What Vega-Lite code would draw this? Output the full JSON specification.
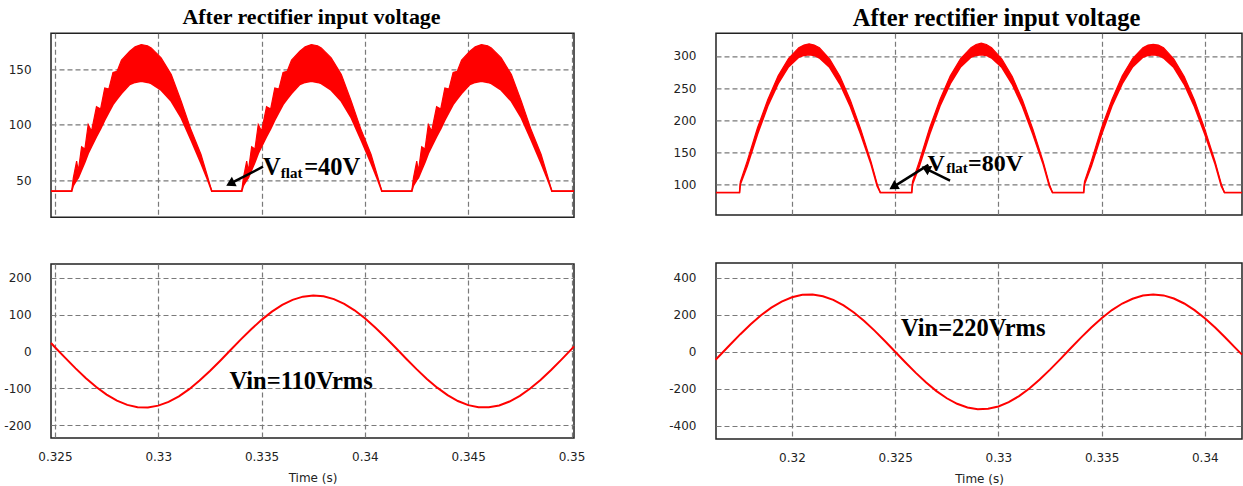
{
  "$schema": "https://vega.github.io/schema/vega-lite/v6.json",
  "padding": {"left": 3, "top": 5.3, "right": 0, "bottom": 0},
  "background": "white",
  "config": {
    "view": {"stroke": "#222222", "strokeWidth": 1.5},
    "axis": {
      "grid": true, "gridColor": "#7a7a7a", "gridDash": [5, 3], "gridWidth": 1.2, "gridOpacity": 1,
      "domain": false, "ticks": false, "labelFlush": false, "labelOverlap": false,
      "labelFont": "DejaVu Sans", "labelFontSize": 12, "labelColor": "#222222",
      "titleFont": "DejaVu Sans", "titleFontSize": 12, "titleFontWeight": "normal", "titleColor": "#222222"
    },
    "axisY": {"labelPadding": 20},
    "axisX": {"labelPadding": 14, "titlePadding": 10},
    "title": {"font": "Liberation Serif", "fontWeight": "bold", "color": "#000000", "anchor": "middle"}
  },
  "datasets": {
    "lt": [
      {"t": 0.32481, "v": 40, "v2": 40},
      {"t": 0.32581, "v": 40, "v2": 40},
      {"t": 0.32589, "v": 45, "v2": 52},
      {"t": 0.32605, "v": 50, "v2": 67},
      {"t": 0.32613, "v": 52, "v2": 58},
      {"t": 0.32629, "v": 59, "v2": 80},
      {"t": 0.32645, "v": 66, "v2": 78},
      {"t": 0.32661, "v": 74, "v2": 100},
      {"t": 0.32677, "v": 80, "v2": 94},
      {"t": 0.32701, "v": 89, "v2": 116},
      {"t": 0.32721, "v": 96, "v2": 114},
      {"t": 0.32741, "v": 104, "v2": 133},
      {"t": 0.32761, "v": 111, "v2": 132},
      {"t": 0.32781, "v": 118, "v2": 147},
      {"t": 0.32801, "v": 123, "v2": 148},
      {"t": 0.32822, "v": 128, "v2": 158},
      {"t": 0.32862, "v": 136, "v2": 166},
      {"t": 0.32888, "v": 138, "v2": 170},
      {"t": 0.32918, "v": 139, "v2": 172},
      {"t": 0.32948, "v": 138, "v2": 171},
      {"t": 0.32966, "v": 137, "v2": 169},
      {"t": 0.33014, "v": 131, "v2": 160},
      {"t": 0.33063, "v": 121, "v2": 145},
      {"t": 0.33111, "v": 106, "v2": 121},
      {"t": 0.33159, "v": 86, "v2": 95},
      {"t": 0.33207, "v": 65, "v2": 73},
      {"t": 0.33239, "v": 50, "v2": 53},
      {"t": 0.33259, "v": 40, "v2": 40},
      {"t": 0.33404, "v": 40, "v2": 40},
      {"t": 0.33412, "v": 45, "v2": 52},
      {"t": 0.33428, "v": 50, "v2": 67},
      {"t": 0.33436, "v": 52, "v2": 58},
      {"t": 0.33452, "v": 59, "v2": 80},
      {"t": 0.33468, "v": 66, "v2": 78},
      {"t": 0.33484, "v": 74, "v2": 100},
      {"t": 0.335, "v": 80, "v2": 94},
      {"t": 0.33524, "v": 89, "v2": 116},
      {"t": 0.33544, "v": 96, "v2": 114},
      {"t": 0.33564, "v": 104, "v2": 133},
      {"t": 0.33584, "v": 111, "v2": 132},
      {"t": 0.33604, "v": 118, "v2": 147},
      {"t": 0.33624, "v": 123, "v2": 148},
      {"t": 0.33645, "v": 128, "v2": 158},
      {"t": 0.33685, "v": 136, "v2": 166},
      {"t": 0.33711, "v": 138, "v2": 170},
      {"t": 0.33741, "v": 139, "v2": 172},
      {"t": 0.33771, "v": 138, "v2": 171},
      {"t": 0.33789, "v": 137, "v2": 169},
      {"t": 0.33837, "v": 131, "v2": 160},
      {"t": 0.33886, "v": 121, "v2": 145},
      {"t": 0.33934, "v": 106, "v2": 121},
      {"t": 0.33982, "v": 86, "v2": 95},
      {"t": 0.3403, "v": 65, "v2": 73},
      {"t": 0.34062, "v": 50, "v2": 53},
      {"t": 0.34082, "v": 40, "v2": 40},
      {"t": 0.34227, "v": 40, "v2": 40},
      {"t": 0.34235, "v": 45, "v2": 52},
      {"t": 0.34251, "v": 50, "v2": 67},
      {"t": 0.34259, "v": 52, "v2": 58},
      {"t": 0.34275, "v": 59, "v2": 80},
      {"t": 0.34291, "v": 66, "v2": 78},
      {"t": 0.34307, "v": 74, "v2": 100},
      {"t": 0.34323, "v": 80, "v2": 94},
      {"t": 0.34347, "v": 89, "v2": 116},
      {"t": 0.34367, "v": 96, "v2": 114},
      {"t": 0.34387, "v": 104, "v2": 133},
      {"t": 0.34407, "v": 111, "v2": 132},
      {"t": 0.34427, "v": 118, "v2": 147},
      {"t": 0.34447, "v": 123, "v2": 148},
      {"t": 0.34468, "v": 128, "v2": 158},
      {"t": 0.34508, "v": 136, "v2": 166},
      {"t": 0.34534, "v": 138, "v2": 170},
      {"t": 0.34564, "v": 139, "v2": 172},
      {"t": 0.34594, "v": 138, "v2": 171},
      {"t": 0.34612, "v": 137, "v2": 169},
      {"t": 0.3466, "v": 131, "v2": 160},
      {"t": 0.34709, "v": 121, "v2": 145},
      {"t": 0.34757, "v": 106, "v2": 121},
      {"t": 0.34805, "v": 86, "v2": 95},
      {"t": 0.34853, "v": 65, "v2": 73},
      {"t": 0.34885, "v": 50, "v2": 53},
      {"t": 0.34905, "v": 40, "v2": 40},
      {"t": 0.35012, "v": 40, "v2": 40}
    ],
    "ltArrow": [{"t": 0.33507, "v": 62, "t2": 0.33355, "v2": 47.4}],
    "ltHead": [{"t": 0.33355, "v": 47.4}],
    "ltBig": [{"t": 0.33507, "v": 54.5, "label": "V"}, {"t": 0.33706, "v": 54.5, "label": "=40V"}],
    "ltSmall": [{"t": 0.33593, "v": 51.5, "label": "flat"}],
    "lb": [
      {"t": 0.32481, "v": 23.1}, {"t": 0.325, "v": 11.6}, {"t": 0.3255, "v": -17.4}, {"t": 0.326, "v": -45.7},
      {"t": 0.3265, "v": -72.4}, {"t": 0.327, "v": -96.4}, {"t": 0.3275, "v": -116.9}, {"t": 0.328, "v": -133.3},
      {"t": 0.3285, "v": -144.7}, {"t": 0.329, "v": -150.9}, {"t": 0.3295, "v": -151.6}, {"t": 0.33, "v": -146.8},
      {"t": 0.3305, "v": -136.7}, {"t": 0.331, "v": -121.7}, {"t": 0.3315, "v": -102.1}, {"t": 0.332, "v": -78.9},
      {"t": 0.3325, "v": -52.9}, {"t": 0.333, "v": -24.9}, {"t": 0.3335, "v": 4.0}, {"t": 0.334, "v": 32.8},
      {"t": 0.3345, "v": 60.3}, {"t": 0.335, "v": 85.7}, {"t": 0.3355, "v": 108.0}, {"t": 0.336, "v": 126.3},
      {"t": 0.3365, "v": 140.1}, {"t": 0.337, "v": 148.7}, {"t": 0.3375, "v": 152.0}, {"t": 0.338, "v": 149.7},
      {"t": 0.3385, "v": 142.0}, {"t": 0.339, "v": 129.2}, {"t": 0.3395, "v": 111.6}, {"t": 0.34, "v": 90.0},
      {"t": 0.3405, "v": 65.2}, {"t": 0.341, "v": 37.9}, {"t": 0.3415, "v": 9.3}, {"t": 0.342, "v": -19.6},
      {"t": 0.3425, "v": -47.8}, {"t": 0.343, "v": -74.4}, {"t": 0.3435, "v": -98.1}, {"t": 0.344, "v": -118.4},
      {"t": 0.3445, "v": -134.3}, {"t": 0.345, "v": -145.4}, {"t": 0.3455, "v": -151.2}, {"t": 0.346, "v": -151.4},
      {"t": 0.3465, "v": -146.2}, {"t": 0.347, "v": -135.7}, {"t": 0.3475, "v": -120.3}, {"t": 0.348, "v": -100.4},
      {"t": 0.3485, "v": -77.0}, {"t": 0.349, "v": -50.7}, {"t": 0.3495, "v": -22.6}, {"t": 0.35, "v": 6.3},
      {"t": 0.35012, "v": 13.8}
    ],
    "lbText": [{"t": 0.33345, "v": -101.4, "label": "Vin=110Vrms"}],
    "rt": [
      {"t": 0.31632, "v": 87, "v2": 87},
      {"t": 0.31746, "v": 87, "v2": 87},
      {"t": 0.3175, "v": 100, "v2": 104},
      {"t": 0.31783, "v": 128, "v2": 136},
      {"t": 0.31833, "v": 178, "v2": 188},
      {"t": 0.31883, "v": 222, "v2": 232},
      {"t": 0.31933, "v": 257, "v2": 269},
      {"t": 0.31983, "v": 283, "v2": 296},
      {"t": 0.32033, "v": 298, "v2": 313},
      {"t": 0.32058, "v": 301, "v2": 317},
      {"t": 0.32083, "v": 302, "v2": 319},
      {"t": 0.32108, "v": 301, "v2": 317},
      {"t": 0.32133, "v": 297, "v2": 313},
      {"t": 0.32183, "v": 282, "v2": 295},
      {"t": 0.32233, "v": 256, "v2": 268},
      {"t": 0.32283, "v": 221, "v2": 231},
      {"t": 0.32333, "v": 178, "v2": 186},
      {"t": 0.32383, "v": 131, "v2": 135},
      {"t": 0.32413, "v": 97, "v2": 100},
      {"t": 0.32428, "v": 87, "v2": 87},
      {"t": 0.3258, "v": 87, "v2": 87},
      {"t": 0.32584, "v": 100, "v2": 104},
      {"t": 0.32617, "v": 128, "v2": 136},
      {"t": 0.32667, "v": 178, "v2": 188},
      {"t": 0.32717, "v": 222, "v2": 232},
      {"t": 0.32767, "v": 257, "v2": 269},
      {"t": 0.32817, "v": 283, "v2": 296},
      {"t": 0.32867, "v": 298, "v2": 313},
      {"t": 0.32892, "v": 301, "v2": 318},
      {"t": 0.32917, "v": 302, "v2": 320},
      {"t": 0.32942, "v": 301, "v2": 318},
      {"t": 0.32967, "v": 297, "v2": 313},
      {"t": 0.33017, "v": 282, "v2": 295},
      {"t": 0.33067, "v": 256, "v2": 268},
      {"t": 0.33117, "v": 221, "v2": 231},
      {"t": 0.33167, "v": 178, "v2": 186},
      {"t": 0.33217, "v": 131, "v2": 135},
      {"t": 0.33247, "v": 97, "v2": 100},
      {"t": 0.33262, "v": 87, "v2": 87},
      {"t": 0.33413, "v": 87, "v2": 87},
      {"t": 0.33417, "v": 100, "v2": 104},
      {"t": 0.3345, "v": 128, "v2": 136},
      {"t": 0.335, "v": 178, "v2": 188},
      {"t": 0.3355, "v": 222, "v2": 232},
      {"t": 0.336, "v": 257, "v2": 269},
      {"t": 0.3365, "v": 283, "v2": 296},
      {"t": 0.337, "v": 298, "v2": 313},
      {"t": 0.33725, "v": 301, "v2": 317},
      {"t": 0.3375, "v": 302, "v2": 318},
      {"t": 0.33775, "v": 301, "v2": 317},
      {"t": 0.338, "v": 297, "v2": 313},
      {"t": 0.3385, "v": 282, "v2": 295},
      {"t": 0.339, "v": 256, "v2": 268},
      {"t": 0.3395, "v": 221, "v2": 231},
      {"t": 0.34, "v": 178, "v2": 186},
      {"t": 0.3405, "v": 131, "v2": 135},
      {"t": 0.3408, "v": 97, "v2": 100},
      {"t": 0.34095, "v": 87, "v2": 87},
      {"t": 0.3418, "v": 87, "v2": 87}
    ],
    "rtArrowA": [{"t": 0.32661, "v": 130.1, "t2": 0.32497, "v2": 97}],
    "rtHeadA": [{"t": 0.32497, "v": 97}],
    "rtArrowB": [{"t": 0.32766, "v": 105.6, "t2": 0.32655, "v2": 123.3}],
    "rtHeadB": [{"t": 0.32655, "v": 123.3}],
    "rtBig": [{"t": 0.32656, "v": 121.2, "label": "V"}, {"t": 0.32853, "v": 121.2, "label": "=80V"}],
    "rtSmall": [{"t": 0.32747, "v": 117.1, "label": "flat"}],
    "rb": [
      {"t": 0.3163, "v": -43.2}, {"t": 0.3165, "v": -19.9}, {"t": 0.317, "v": 38.6}, {"t": 0.3175, "v": 95.7},
      {"t": 0.318, "v": 149.5}, {"t": 0.3185, "v": 197.9}, {"t": 0.319, "v": 239.4}, {"t": 0.3195, "v": 272.3},
      {"t": 0.32, "v": 295.7}, {"t": 0.3205, "v": 308.5}, {"t": 0.321, "v": 310.4}, {"t": 0.3215, "v": 301.3},
      {"t": 0.322, "v": 281.6}, {"t": 0.3225, "v": 251.8}, {"t": 0.323, "v": 213.1}, {"t": 0.3235, "v": 167.0},
      {"t": 0.324, "v": 114.8}, {"t": 0.3245, "v": 58.7}, {"t": 0.325, "v": 0.4}, {"t": 0.3255, "v": -57.9},
      {"t": 0.326, "v": -114.1}, {"t": 0.3265, "v": -166.3}, {"t": 0.327, "v": -212.6}, {"t": 0.3275, "v": -251.4},
      {"t": 0.328, "v": -281.2}, {"t": 0.3285, "v": -301.1}, {"t": 0.329, "v": -310.4}, {"t": 0.3295, "v": -308.6},
      {"t": 0.33, "v": -295.9}, {"t": 0.3305, "v": -272.7}, {"t": 0.331, "v": -239.8}, {"t": 0.3315, "v": -198.5},
      {"t": 0.332, "v": -150.2}, {"t": 0.3325, "v": -96.5}, {"t": 0.333, "v": -39.4}, {"t": 0.3335, "v": 19.1},
      {"t": 0.334, "v": 77.0}, {"t": 0.3345, "v": 132.1}, {"t": 0.335, "v": 182.4}, {"t": 0.3355, "v": 226.2},
      {"t": 0.336, "v": 261.6}, {"t": 0.3365, "v": 287.5}, {"t": 0.337, "v": 305.1}, {"t": 0.3375, "v": 311.0},
      {"t": 0.338, "v": 305.5}, {"t": 0.3385, "v": 288.8}, {"t": 0.339, "v": 261.7}, {"t": 0.3395, "v": 225.8},
      {"t": 0.34, "v": 182.1}, {"t": 0.3405, "v": 131.6}, {"t": 0.341, "v": 76.5}, {"t": 0.3415, "v": 18.6},
      {"t": 0.3418, "v": -15.2}
    ],
    "rbText": [{"t": 0.32528, "v": 86.5, "label": "Vin=220Vrms"}]
  },
  "spacing": 82,
  "hconcat": [
    {
      "vconcat": [
        {
          "width": 523, "height": 184,
          "title": {"text": "After rectifier input voltage", "fontSize": 22, "offset": 4, "dx": -1},
          "encoding": {
            "x": {"field": "t", "type": "quantitative", "title": null,
                  "scale": {"domain": [0.32481, 0.35012], "nice": false, "zero": false},
                  "axis": {"values": [0.325, 0.33, 0.335, 0.34, 0.345, 0.35], "labels": false}},
            "y": {"field": "v", "type": "quantitative", "title": null,
                  "scale": {"domain": [16.4, 182.2], "nice": false, "zero": false},
                  "axis": {"values": [50, 100, 150], "labelExpr": "datum.value < 0 ? '-' + format(-datum.value, '~g') : format(datum.value, '~g')"}}
          },
          "layer": [
            {"data": {"name": "lt"}, "mark": {"type": "area", "color": "#ff0000", "opacity": 1},
             "encoding": {"y2": {"field": "v2"}}},
            {"data": {"name": "lt"}, "mark": {"type": "line", "color": "#ff0000", "strokeWidth": 1.6}},
            {"data": {"name": "lt"}, "mark": {"type": "line", "color": "#ff0000", "strokeWidth": 1.2},
             "encoding": {"y": {"field": "v2", "type": "quantitative", "scale": {"domain": [16.4, 182.2], "nice": false, "zero": false}}}},
            {"data": {"name": "ltArrow"}, "mark": {"type": "rule", "color": "#000000", "strokeWidth": 2.5},
             "encoding": {"x2": {"field": "t2"}, "y2": {"field": "v2"}}},
            {"data": {"name": "ltHead"}, "mark": {"type": "point", "shape": "triangle", "angle": 242.6, "filled": true, "color": "#000000", "size": 110, "opacity": 1}},
            {"data": {"name": "ltBig"}, "mark": {"type": "text", "font": "Liberation Serif", "fontWeight": "bold", "fontSize": 24.5, "align": "left", "baseline": "alphabetic", "color": "#000000"},
             "encoding": {"text": {"field": "label"}}},
            {"data": {"name": "ltSmall"}, "mark": {"type": "text", "font": "Liberation Serif", "fontWeight": "bold", "fontSize": 15, "align": "left", "baseline": "alphabetic", "color": "#000000"},
             "encoding": {"text": {"field": "label"}}}
          ]
        },
        {
          "width": 523, "height": 174,
          "encoding": {
            "x": {"field": "t", "type": "quantitative", "title": "Time (s)",
                  "scale": {"domain": [0.32481, 0.35012], "nice": false, "zero": false},
                  "axis": {"values": [0.325, 0.33, 0.335, 0.34, 0.345, 0.35], "format": "~g"}},
            "y": {"field": "v", "type": "quantitative", "title": null,
                  "scale": {"domain": [-234.5, 237.2], "nice": false, "zero": false},
                  "axis": {"values": [-200, -100, 0, 100, 200], "labelExpr": "datum.value < 0 ? '-' + format(-datum.value, '~g') : format(datum.value, '~g')"}}
          },
          "layer": [
            {"data": {"name": "lb"}, "mark": {"type": "line", "color": "#ff0000", "strokeWidth": 2}},
            {"data": {"name": "lbText"}, "mark": {"type": "text", "font": "Liberation Serif", "fontWeight": "bold", "fontSize": 24.5, "align": "left", "baseline": "alphabetic", "color": "#000000"},
             "encoding": {"text": {"field": "label"}}}
          ]
        }
      ],
      "spacing": 46.7, "bounds": "flush"
    },
    {
      "vconcat": [
        {
          "width": 526, "height": 181.7,
          "title": {"text": "After rectifier input voltage", "fontSize": 24.5, "offset": 1.7, "dx": 17.5},
          "encoding": {
            "x": {"field": "t", "type": "quantitative", "title": null,
                  "scale": {"domain": [0.31632, 0.3418], "nice": false, "zero": false},
                  "axis": {"values": [0.32, 0.325, 0.33, 0.335, 0.34], "labels": false}},
            "y": {"field": "v", "type": "quantitative", "title": null,
                  "scale": {"domain": [52, 335.4], "nice": false, "zero": false},
                  "axis": {"values": [100, 150, 200, 250, 300], "labelExpr": "datum.value < 0 ? '-' + format(-datum.value, '~g') : format(datum.value, '~g')"}}
          },
          "layer": [
            {"data": {"name": "rt"}, "mark": {"type": "area", "color": "#ff0000", "opacity": 1},
             "encoding": {"y2": {"field": "v2"}}},
            {"data": {"name": "rt"}, "mark": {"type": "line", "color": "#ff0000", "strokeWidth": 1.6}},
            {"data": {"name": "rt"}, "mark": {"type": "line", "color": "#ff0000", "strokeWidth": 1.2},
             "encoding": {"y": {"field": "v2", "type": "quantitative", "scale": {"domain": [52, 335.4], "nice": false, "zero": false}}}},
            {"data": {"name": "rtArrowA"}, "mark": {"type": "rule", "color": "#000000", "strokeWidth": 2.5},
             "encoding": {"x2": {"field": "t2"}, "y2": {"field": "v2"}}},
            {"data": {"name": "rtHeadA"}, "mark": {"type": "point", "shape": "triangle", "angle": 238.1, "filled": true, "color": "#000000", "size": 110, "opacity": 1}},
            {"data": {"name": "rtArrowB"}, "mark": {"type": "rule", "color": "#000000", "strokeWidth": 2.5},
             "encoding": {"x2": {"field": "t2"}, "y2": {"field": "v2"}}},
            {"data": {"name": "rtHeadB"}, "mark": {"type": "point", "shape": "triangle", "angle": 296.3, "filled": true, "color": "#000000", "size": 110, "opacity": 1}},
            {"data": {"name": "rtBig"}, "mark": {"type": "text", "font": "Liberation Serif", "fontWeight": "bold", "fontSize": 24, "align": "left", "baseline": "alphabetic", "color": "#000000"},
             "encoding": {"text": {"field": "label"}}},
            {"data": {"name": "rtSmall"}, "mark": {"type": "text", "font": "Liberation Serif", "fontWeight": "bold", "fontSize": 15, "align": "left", "baseline": "alphabetic", "color": "#000000"},
             "encoding": {"text": {"field": "label"}}}
          ]
        },
        {
          "width": 526, "height": 176,
          "encoding": {
            "x": {"field": "t", "type": "quantitative", "title": "Time (s)",
                  "scale": {"domain": [0.31632, 0.3418], "nice": false, "zero": false},
                  "axis": {"values": [0.32, 0.325, 0.33, 0.335, 0.34], "format": "~g"}},
            "y": {"field": "v", "type": "quantitative", "title": null,
                  "scale": {"domain": [-472, 481], "nice": false, "zero": false},
                  "axis": {"values": [-400, -200, 0, 200, 400], "labelExpr": "datum.value < 0 ? '-' + format(-datum.value, '~g') : format(datum.value, '~g')"}}
          },
          "layer": [
            {"data": {"name": "rb"}, "mark": {"type": "line", "color": "#ff0000", "strokeWidth": 2}},
            {"data": {"name": "rbText"}, "mark": {"type": "text", "font": "Liberation Serif", "fontWeight": "bold", "fontSize": 24.5, "align": "left", "baseline": "alphabetic", "color": "#000000"},
             "encoding": {"text": {"field": "label"}}}
          ]
        }
      ],
      "spacing": 47.7, "bounds": "flush"
    }
  ]
}
